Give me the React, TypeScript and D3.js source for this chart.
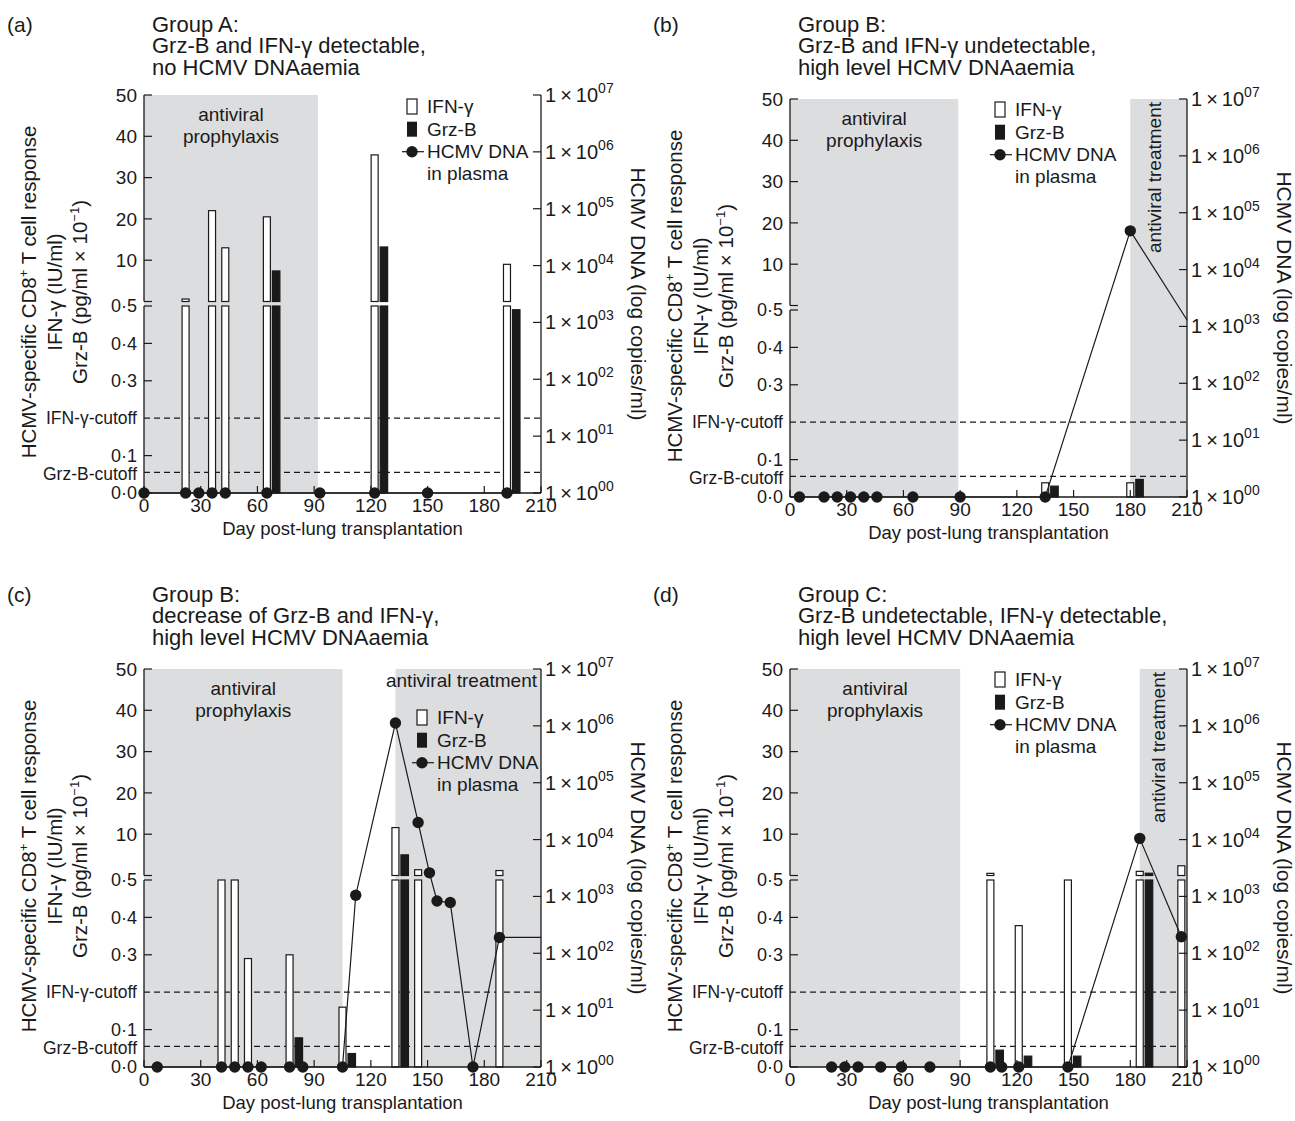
import * as d3 from 'd3';
import React from 'react';

// ---------- shared axis values ----------
const dayTicks = [0, 30, 60, 90, 120, 150, 180, 210];
const upperTicks = [10, 20, 30, 40, 50];
const lowerTicks = [0, 0.1, 0.3, 0.4, 0.5];
const lowerTickLabels = ['0·0', '0·1', '0·3', '0·4', '0·5'];
const logExponents = [0, 1, 2, 3, 4, 5, 6, 7];
const ifnCutoff = 0.2;
const grzCutoff = 0.055;

// ---------- panel (a) ----------
const aTitle = ['Group A:', 'Grz-B and IFN-γ detectable,', 'no HCMV DNAaemia'];
const aDnaDays = [0, 22, 29, 36, 43, 65, 93, 122, 150, 192];
const aDnaCopies = [1, 1, 1, 1, 1, 1, 1, 1, 1, 1];
const aIfnDays = [22, 36, 43, 65, 122, 192];
const aIfnValues = [0.6, 22, 13, 20.5, 35.5, 9];
const aGrzDays = [65, 122, 192];
const aGrzValues = [7.4, 13.2, 0.49];

// ---------- panel (b) ----------
const bTitle = ['Group B:', 'Grz-B and IFN-γ undetectable,', 'high level HCMV DNAaemia'];
const bDnaDays = [5, 18, 25, 32, 39, 46, 65, 90, 135, 180];
const bDnaCopies = [1, 1, 1, 1, 1, 1, 1, 1, 1, 48000];
const bDnaTail = [210, 1300];
const bIfnDays = [135, 180];
const bIfnValues = [0.038, 0.038];
const bGrzDays = [135, 180];
const bGrzValues = [0.029, 0.047];

// ---------- panel (c) ----------
const cTitle = ['Group B:', 'decrease of Grz-B and IFN-γ,', 'high level HCMV DNAaemia'];
const cDnaDays = [7, 41, 48, 55, 62, 77, 84, 105, 112, 133, 145, 151, 155, 162, 174, 188];
const cDnaCopies = [1, 1, 1, 1, 1, 1, 1, 1, 1050, 1120000, 20000, 2600, 830, 780, 1, 190];
const cDnaTail = [210, 190];
const cIfnDays = [41, 48, 55, 77, 105, 133, 145, 188];
const cIfnValues = [0.5, 0.5, 0.29, 0.3, 0.16, 11.6, 1.4, 1.2];
const cGrzDays = [77, 105, 133];
const cGrzValues = [0.078, 0.036, 5.0];

// ---------- panel (d) ----------
const dTitle = ['Group C:', 'Grz-B undetectable, IFN-γ detectable,', 'high level HCMV DNAaemia'];
const dDnaDays = [22, 29, 36, 48, 59, 74, 106, 112, 121, 147, 185, 207];
const dDnaCopies = [1, 1, 1, 1, 1, 1, 1, 1, 1, 1, 10500, 195];
const dIfnDays = [106, 121, 147, 185, 207];
const dIfnValues = [0.52, 0.378, 0.5, 1.0, 2.35];
const dGrzDays = [106, 121, 147, 185];
const dGrzValues = [0.045, 0.029, 0.029, 0.55];

// ---------- geometry ----------
const W = 397;
const H = 398;
const LOW_TOP = 211; // y of 0.5 on the lower segment
const UP_BOTTOM = 206.5; // y of 0 on the upper segment
const INK = '#1a1a1a';
const SHADE = '#dcdddf';
const FONT = "'Liberation Sans', Arial, Helvetica, sans-serif";

type PanelProps = {
  id: string;
  left: number;
  top: number;
  titleY: number;
  letter: string;
  title: string[];
  dnaDays: number[];
  dnaCopies: number[];
  tail?: number[];
  ifnDays: number[];
  ifnValues: number[];
  grzDays: number[];
  grzValues: number[];
  prophylaxis: number[];
  treatment?: number[];
  treatmentVertical?: boolean;
  legend: number[];
};

function Panel(p: PanelProps) {
  const x = d3.scaleLinear().domain([0, 210]).range([0, W]);
  const yL = d3.scaleLinear().domain([0, 0.5]).range([H, LOW_TOP]);
  const yU = d3.scaleLinear().domain([0, 50]).range([UP_BOTTOM, 0]);
  const yLog = d3.scaleLog().domain([1, 1e7]).range([H, 0]);

  // bars drawn on the broken axis: lower part up to 0.5, upper part on the 0-50 scale
  const bars = (days: number[], vals: number[], dx: number, bw: number, fill: string, key: string) =>
    days.flatMap((d, i) => {
      const v = vals[i];
      const bx = x(d) + dx;
      const common = { x: bx, width: bw, fill, stroke: INK, strokeWidth: 1.2 };
      if (v <= 0.5) {
        return [<rect key={`${key}${i}`} {...common} y={yL(v)} height={H - yL(v)} />];
      }
      return [
        <rect key={`${key}${i}l`} {...common} y={yL(0.5)} height={H - yL(0.5)} />,
        <rect key={`${key}${i}u`} {...common} y={yU(v)} height={UP_BOTTOM - yU(v)} />,
      ];
    });

  const pts: [number, number][] = p.dnaDays.map((d, i) => [x(d), yLog(p.dnaCopies[i])]);
  const linePts = p.tail ? [...pts, [x(p.tail[0]), yLog(p.tail[1])] as [number, number]] : pts;
  const linePath = d3.line()(linePts) || '';

  const [lx, ly] = p.legend;

  return (
    <g>
      {/* title block */}
      <text x={p.left - 137} y={p.titleY} fontSize={21} fill={INK}>{p.letter}</text>
      {p.title.map((t, i) => (
        <text key={i} x={p.left + 8} y={p.titleY + i * 21.7} fontSize={22} fill={INK}>{t}</text>
      ))}

      {/* left axis title */}
      <g transform={`translate(${p.left - 108},${p.top + H / 2 - 2}) rotate(-90)`} fontSize={20.5} fill={INK} textAnchor="middle">
        <text>
          HCMV-specific CD8<tspan dy={-8} fontSize={13}>+</tspan><tspan dy={8}> T cell response</tspan>
        </text>
      </g>
      <g transform={`translate(${p.left - 82},${p.top + H / 2 - 2}) rotate(-90)`} fontSize={20.5} fill={INK} textAnchor="middle">
        <text>IFN-γ (IU/ml)</text>
      </g>
      <g transform={`translate(${p.left - 57},${p.top + H / 2 - 2}) rotate(-90)`} fontSize={20.5} fill={INK} textAnchor="middle">
        <text>
          Grz-B (pg/ml × 10<tspan dy={-8} fontSize={13}>−1</tspan><tspan dy={8}>)</tspan>
        </text>
      </g>

      {/* right axis title */}
      <g transform={`translate(${p.left + W + 90},${p.top + H / 2}) rotate(90)`} fontSize={21} fill={INK} textAnchor="middle">
        <text>HCMV DNA (log copies/ml)</text>
      </g>

      <g transform={`translate(${p.left},${p.top})`}>
        {/* shaded therapy periods */}
        <rect x={x(p.prophylaxis[0])} y={0} width={x(p.prophylaxis[1]) - x(p.prophylaxis[0])} height={H} fill={SHADE} />
        {p.treatment && (
          <rect x={x(p.treatment[0])} y={0} width={x(p.treatment[1]) - x(p.treatment[0])} height={H} fill={SHADE} />
        )}
        <text x={(x(p.prophylaxis[0]) + x(p.prophylaxis[1])) / 2} y={26} textAnchor="middle" fontSize={19} fill={INK}>antiviral</text>
        <text x={(x(p.prophylaxis[0]) + x(p.prophylaxis[1])) / 2} y={48} textAnchor="middle" fontSize={19} fill={INK}>prophylaxis</text>
        {p.treatment && !p.treatmentVertical && (
          <text x={W - 4} y={18} textAnchor="end" fontSize={19} fill={INK}>antiviral treatment</text>
        )}
        {p.treatment && p.treatmentVertical && (
          <text
            transform={`translate(${(x(p.treatment[0]) + x(p.treatment[1])) / 2 + 2},3) rotate(-90)`}
            textAnchor="end" fontSize={19} fill={INK}
          >antiviral treatment</text>
        )}

        {/* cutoff lines */}
        <line x1={0} x2={W} y1={yL(ifnCutoff)} y2={yL(ifnCutoff)} stroke={INK} strokeWidth={1.2} strokeDasharray="6 4" />
        <line x1={0} x2={W} y1={yL(grzCutoff)} y2={yL(grzCutoff)} stroke={INK} strokeWidth={1.2} strokeDasharray="6 4" />

        {/* bars */}
        {bars(p.ifnDays, p.ifnValues, -3.5, 7, '#ffffff', 'i')}
        {bars(p.grzDays, p.grzValues, 5.5, 7.5, INK, 'g')}

        {/* HCMV DNA line */}
        <path d={linePath} fill="none" stroke={INK} strokeWidth={1.2} />
        {pts.map((q, i) => (
          <circle key={i} cx={q[0]} cy={q[1]} r={5.7} fill={INK} />
        ))}

        {/* left broken axis */}
        <line x1={0} x2={0} y1={0} y2={UP_BOTTOM} stroke={INK} strokeWidth={1.3} />
        <line x1={0} x2={0} y1={LOW_TOP} y2={H} stroke={INK} strokeWidth={1.3} />
        <line x1={0} x2={8} y1={UP_BOTTOM} y2={UP_BOTTOM} stroke={INK} strokeWidth={1.2} />
        {upperTicks.map((t) => (
          <g key={`u${t}`}>
            <line x1={0} x2={8} y1={yU(t)} y2={yU(t)} stroke={INK} strokeWidth={1.2} />
            <text x={-7} y={yU(t)} dy="0.35em" textAnchor="end" fontSize={19} fill={INK}>{t}</text>
          </g>
        ))}
        {lowerTicks.map((t, i) => (
          <g key={`l${t}`}>
            <line x1={0} x2={8} y1={yL(t)} y2={yL(t)} stroke={INK} strokeWidth={1.2} />
            <text x={-7} y={yL(t)} dy="0.35em" textAnchor="end" fontSize={18} fill={INK}>{lowerTickLabels[i]}</text>
          </g>
        ))}
        <text x={-7} y={yL(ifnCutoff)} dy="0.35em" textAnchor="end" fontSize={17.5} fill={INK}>IFN-γ-cutoff</text>
        <text x={-7} y={yL(grzCutoff) + 1} dy="0.35em" textAnchor="end" fontSize={17.5} fill={INK}>Grz-B-cutoff</text>

        {/* right log axis */}
        <line x1={W} x2={W} y1={0} y2={H} stroke={INK} strokeWidth={1.3} />
        {logExponents.map((k) => (
          <g key={`r${k}`}>
            <line x1={W - 8} x2={W} y1={yLog(10 ** k)} y2={yLog(10 ** k)} stroke={INK} strokeWidth={1.2} />
            <text x={W + 4} y={yLog(10 ** k)} dy="0.35em" fontSize={20} fill={INK}>
              1{'\u2009'}×{'\u2009'}10<tspan dy={-9} fontSize={14}>{`0${k}`}</tspan>
            </text>
          </g>
        ))}

        {/* bottom axis */}
        <line x1={0} x2={W} y1={H} y2={H} stroke={INK} strokeWidth={1.3} />
        {dayTicks.map((t) => (
          <g key={`x${t}`}>
            <line x1={x(t)} x2={x(t)} y1={H} y2={H - 7} stroke={INK} strokeWidth={1.2} />
            <text x={x(t)} y={H + 19} textAnchor="middle" fontSize={19} fill={INK}>{t}</text>
          </g>
        ))}
        <text x={W / 2} y={H + 42} textAnchor="middle" fontSize={18.5} fill={INK}>Day post-lung transplantation</text>

        {/* legend */}
        <rect x={lx} y={ly} width={10} height={15} fill="#ffffff" stroke={INK} strokeWidth={1.2} />
        <text x={lx + 20} y={ly + 14} fontSize={19} fill={INK}>IFN-γ</text>
        <rect x={lx} y={ly + 22.7} width={10} height={15} fill={INK} />
        <text x={lx + 20} y={ly + 36.5} fontSize={19} fill={INK}>Grz-B</text>
        <line x1={lx - 5} x2={lx + 17} y1={ly + 52.7} y2={ly + 52.7} stroke={INK} strokeWidth={1.2} />
        <circle cx={lx + 5} cy={ly + 52.7} r={5.7} fill={INK} />
        <text x={lx + 20} y={ly + 59} fontSize={19} fill={INK}>HCMV DNA</text>
        <text x={lx + 20} y={ly + 81} fontSize={19} fill={INK}>in plasma</text>
      </g>
    </g>
  );
}

export default function App() {
  return (
    <svg
      width={1295}
      height={1121}
      viewBox="0 0 1295 1121"
      style={{ position: 'absolute', left: 0, top: 0, background: '#ffffff' }}
      fontFamily={FONT}
    >
      <rect width={1295} height={1121} fill="#ffffff" />
      <Panel
        id="a" left={144} top={95} titleY={31.5} letter="(a)" title={aTitle}
        dnaDays={aDnaDays} dnaCopies={aDnaCopies}
        ifnDays={aIfnDays} ifnValues={aIfnValues} grzDays={aGrzDays} grzValues={aGrzValues}
        prophylaxis={[0, 92]} legend={[263, 4]}
      />
      <Panel
        id="b" left={790} top={99} titleY={31.5} letter="(b)" title={bTitle}
        dnaDays={bDnaDays} dnaCopies={bDnaCopies} tail={bDnaTail}
        ifnDays={bIfnDays} ifnValues={bIfnValues} grzDays={bGrzDays} grzValues={bGrzValues}
        prophylaxis={[0, 89]} treatment={[180, 210]} treatmentVertical legend={[205, 3]}
      />
      <Panel
        id="c" left={144} top={669} titleY={601.5} letter="(c)" title={cTitle}
        dnaDays={cDnaDays} dnaCopies={cDnaCopies} tail={cDnaTail}
        ifnDays={cIfnDays} ifnValues={cIfnValues} grzDays={cGrzDays} grzValues={cGrzValues}
        prophylaxis={[0, 105]} treatment={[133, 210]} legend={[273, 41]}
      />
      <Panel
        id="d" left={790} top={669} titleY={601.5} letter="(d)" title={dTitle}
        dnaDays={dDnaDays} dnaCopies={dDnaCopies}
        ifnDays={dIfnDays} ifnValues={dIfnValues} grzDays={dGrzDays} grzValues={dGrzValues}
        prophylaxis={[0, 90]} treatment={[185, 210]} treatmentVertical legend={[205, 3]}
      />
    </svg>
  );
}
